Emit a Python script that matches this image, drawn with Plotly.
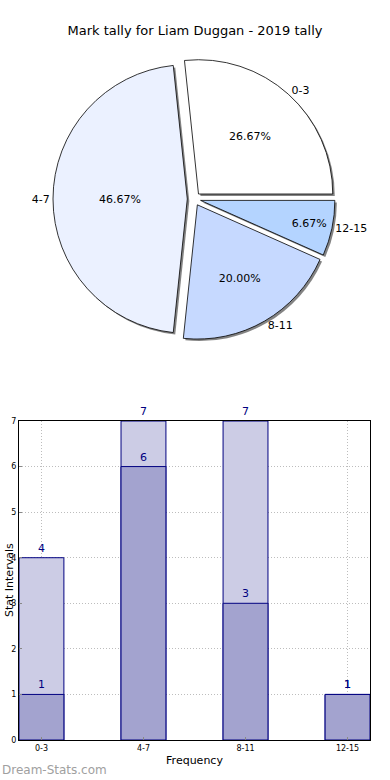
import plotly.graph_objects as go

# Data
categories = ["0-3", "4-7", "8-11", "12-15"]
pie_values = [4, 7, 3, 1]
pie_colors = ["#FFFFFF", "#EBF1FF", "#C6D9FF", "#B4D4FF"]
total_counts = [4, 7, 7, 1]
sub_counts = [1, 6, 3, 1]
y_ticks = [0, 1, 2, 3, 4, 5, 6, 7]

W, H = 390, 780
FONT = "DejaVu Sans"

def px_x(a, b):
    return [a / W, b / W]

def px_y(top, bottom):
    return [(H - bottom) / H, (H - top) / H]

fig = go.Figure()

# pie geometry (first slice starts at 3 o'clock, counterclockwise like matplotlib)
rot = 90 - 360 * pie_values[0] / sum(pie_values)
cx, cy, half = 194, 199, 141
pull = [0.05] * 4
dom_x = px_x(cx - half, cx + half)
dom_y = px_y(cy - half, cy + half)
sh = 2
shadow_x = px_x(cx - half + sh, cx + half + sh)
shadow_y = px_y(cy - half + sh, cy + half + sh)

common = dict(labels=categories, values=pie_values, sort=False,
              direction="counterclockwise", rotation=rot, pull=pull,
              hoverinfo="skip", showlegend=False)

fig.add_trace(go.Pie(**common, domain=dict(x=shadow_x, y=shadow_y),
                     marker=dict(colors=["rgba(100,100,100,0.8)"] * 4,
                                 line=dict(width=0)),
                     textinfo="none"))
fig.add_trace(go.Pie(**common, domain=dict(x=dom_x, y=dom_y),
                     marker=dict(colors=pie_colors,
                                 line=dict(color="#000000", width=0.8)),
                     texttemplate="%{percent:.2%}", textposition="inside",
                     insidetextorientation="horizontal",
                     textfont=dict(family=FONT, size=11, color="#000000")))
fig.add_trace(go.Pie(**common, domain=dict(x=dom_x, y=dom_y),
                     marker=dict(colors=["rgba(0,0,0,0)"] * 4,
                                 line=dict(width=0)),
                     texttemplate="%{label}", textposition="outside",
                     outsidetextfont=dict(family=FONT, size=11, color="#000000")))

# bars
bar_line = dict(color="#000080", width=1)
fig.add_trace(go.Bar(x=list(range(len(categories))), y=total_counts, width=0.44,
                     marker=dict(color="#CCCCE5", line=bar_line),
                     text=[str(v) for v in total_counts], textposition="outside",
                     textfont=dict(family=FONT, size=11, color="#000080"),
                     cliponaxis=False, showlegend=False, hoverinfo="skip"))
fig.add_trace(go.Bar(x=list(range(len(categories))), y=sub_counts, width=0.44,
                     marker=dict(color="#A3A3CF", line=bar_line),
                     text=[str(v) for v in sub_counts], textposition="outside",
                     textfont=dict(family=FONT, size=11, color="#000080"),
                     cliponaxis=False, showlegend=False, hoverinfo="skip"))

grid = dict(showgrid=True, gridcolor="#BDBDBD", griddash="1px,2px", gridwidth=1)
y_dom = px_y(421, 740)

fig.update_layout(
    template="none",
    width=W, height=H, margin=dict(l=0, r=0, t=0, b=0, autoexpand=False),
    paper_bgcolor="white", plot_bgcolor="white",
    font=dict(family=FONT, color="#000000"),
    barmode="overlay", uniformtext=dict(mode=False),
    title=dict(text="Mark tally for Liam Duggan - 2019 tally",
               x=0.5, xanchor="center", xref="paper",
               yref="container", y=1 - 30 / H, yanchor="middle",
               automargin=False,
               font=dict(family=FONT, size=13, color="#000000")),
    xaxis=dict(domain=px_x(19, 370), range=[-0.22, 3.22], automargin=False,
               tickmode="array", tickvals=list(range(len(categories))),
               ticktext=categories, tickfont=dict(size=8), **grid,
               showline=True, linecolor="#000000", linewidth=1, mirror=True,
               ticks="inside", ticklen=3, tickcolor="#888888",
               title=dict(text="Frequency", font=dict(size=11), standoff=4),
               zeroline=False, fixedrange=True),
    yaxis=dict(domain=y_dom, range=[0, 7], automargin=False,
               tickmode="array", tickvals=y_ticks, tickfont=dict(size=8), **grid,
               showline=True, linecolor="#000000", linewidth=1, mirror=True,
               ticks="inside", ticklen=3, tickcolor="#888888",
               zeroline=False, fixedrange=True),
    annotations=[
        dict(text="Stat Intervals", textangle=-90, x=1 / W, y=(y_dom[0] + y_dom[1]) / 2,
             xref="paper", yref="paper", xanchor="left", yanchor="middle",
             showarrow=False, font=dict(family=FONT, size=11, color="#000000")),
        dict(text="Dream-Stats.com", x=0, y=1 - 770 / H,
             xref="paper", yref="paper", xanchor="left", yanchor="middle",
             showarrow=False, font=dict(family=FONT, size=12, color="#A0A0A0")),
    ],
)

fig.write_html("out.html", config={"displayModeBar": False},
               post_script="document.body.style.margin='0';")
